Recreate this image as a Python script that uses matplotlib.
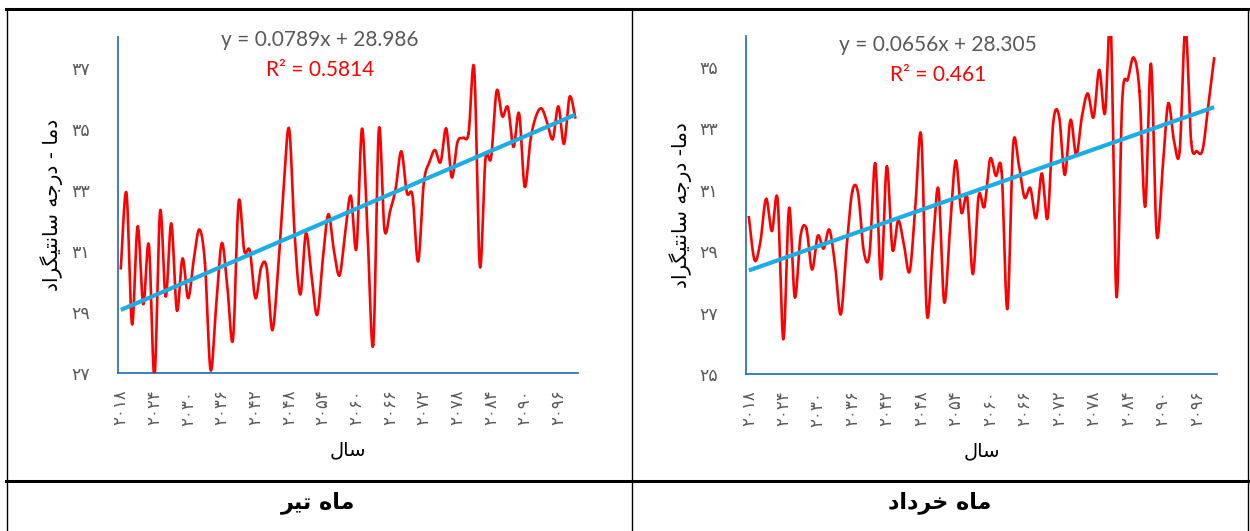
import numpy as np
import matplotlib
matplotlib.use("Agg")
import matplotlib.pyplot as plt
from matplotlib.lines import Line2D

YEARS = np.arange(2018, 2100)

# ماه تیر
TIR_TEMP = [30.43, 32.9, 28.6, 31.8, 29.25, 31.2, 26.9, 32.3, 29.5, 31.9,
            29.05, 30.75, 29.45, 30.7, 31.7, 30.6, 27.1, 29.2, 31.25, 29.8,
            28.1, 32.6, 31.0, 31.0, 29.45, 30.45, 30.45, 28.4, 30.3, 33.0,
            35.0, 31.5, 29.57, 31.57, 30.2, 28.9, 30.7, 32.2, 31.0, 30.2,
            31.6, 32.8, 31.07, 35.0, 31.5, 27.93, 34.97, 31.7, 32.3, 33.04,
            34.26, 32.9, 32.8, 30.65, 33.2, 33.9, 34.3, 33.9, 35.0, 33.4,
            34.55, 34.7, 34.85, 36.95, 30.5, 34.0, 34.05, 36.24, 35.4, 35.7,
            34.4, 35.5, 33.1, 34.6, 35.4, 35.66, 35.2, 34.66, 35.73, 34.5,
            36.04, 35.37]
TIR_FIT = (0.0789, 28.986, 0.5814)

# ماه خرداد
KHORDAD_TEMP = [30.1, 28.7, 29.3, 30.7, 29.65, 30.68, 26.13, 30.4, 27.5, 29.5,
                29.74, 28.4, 29.5, 29.08, 29.7, 28.56, 26.94, 29.1, 30.94, 30.9,
                29.0, 28.9, 31.86, 28.08, 31.75, 29.05, 30.0, 29.2, 28.34, 30.5,
                32.76, 26.94, 29.1, 31.03, 27.34, 29.64, 31.94, 30.26, 30.75, 28.25,
                30.8, 30.45, 32.0, 31.45, 31.6, 27.11, 32.43, 31.8, 30.74, 31.05,
                30.07, 31.53, 30.07, 33.2, 33.4, 31.48, 33.27, 32.13, 33.4, 34.13,
                33.35, 34.9, 33.48, 36.3, 27.52, 33.9, 34.6, 35.3, 34.2, 30.45,
                35.1, 29.53, 31.6, 33.8, 32.6, 32.25, 36.3, 32.56, 32.25, 32.3,
                33.77, 35.27]
KHORDAD_FIT = (0.0656, 28.305, 0.461)

RED = "#FF0000"
TREND = "#1CADE4"
AXIS = "#2E75B6"
GREY = "#595959"

# contextual forms: isolated, final, initial, medial
FORMS = {
    "ا": "\uFE8D\uFE8E\uFE8D\uFE8E", "د": "\uFEA9\uFEAA\uFEA9\uFEAA",
    "ر": "\uFEAD\uFEAE\uFEAD\uFEAE", "م": "\uFEE1\uFEE2\uFEE3\uFEE4",
    "ج": "\uFE9D\uFE9E\uFE9F\uFEA0", "ه": "\uFEE9\uFEEA\uFEEB\uFEEC",
    "س": "\uFEB1\uFEB2\uFEB3\uFEB4", "ن": "\uFEE5\uFEE6\uFEE7\uFEE8",
    "ت": "\uFE95\uFE96\uFE97\uFE98", "ی": "\uFBFC\uFBFD\uFBFE\uFBFF",
    "گ": "\uFB92\uFB93\uFB94\uFB95", "ل": "\uFEDD\uFEDE\uFEDF\uFEE0",
    "خ": "\uFEA5\uFEA6\uFEA7\uFEA8",
}
RIGHT_ONLY = set("ادر")


def fa(text):
    dual = lambda c: c in FORMS and c not in RIGHT_ONLY
    out = []
    for k, c in enumerate(text):
        if c not in FORMS:
            out.append(c)
            continue
        prev = text[k - 1] if k > 0 else ""
        nxt = text[k + 1] if k + 1 < len(text) else ""
        jp = dual(prev)
        jn = dual(c) and nxt in FORMS
        f = FORMS[c]
        out.append(f[3] if jp and jn else f[1] if jp else f[2] if jn else f[0])
    return "".join(reversed(out))


def fa_num(n):
    return str(n).translate(str.maketrans("0123456789", "۰۱۲۳۴۵۶۷۸۹"))


def smooth(x, y, n=24):
    p = np.column_stack([x, y]).astype(float)
    p = np.vstack([p[0], p, p[-1]])
    t = np.linspace(0, 1, n)[:, None]
    segs = []
    for i in range(1, len(p) - 2):
        p0, p1, p2, p3 = p[i - 1], p[i], p[i + 1], p[i + 2]
        segs.append(0.5 * (2 * p1 + (-p0 + p2) * t
                           + (2 * p0 - 5 * p1 + 4 * p2 - p3) * t ** 2
                           + (-p0 + 3 * p1 - 3 * p2 + p3) * t ** 3))
    s = np.vstack(segs)
    return s[:, 0], s[:, 1]


def panel(ax, temps, fit, ylim, ylabel, eq_pos, r2_pos, ylab_x):
    temps = np.array(temps)
    sx, sy = smooth(YEARS, temps)
    ax.plot(sx, sy, color=RED, lw=1.9, zorder=3)
    slope, icpt, r2 = fit
    idx = np.arange(1, len(YEARS) + 1)
    ax.plot(YEARS, slope * idx + icpt, color=TREND, lw=3.0, zorder=4,
            solid_capstyle="butt")
    ax.set_xlim(YEARS[0] - 0.5, YEARS[-1] + 0.5)
    ax.set_ylim(*ylim)
    yt = list(range(ylim[0], ylim[1] + 1, 2))
    ax.set_yticks(yt)
    ax.set_yticklabels([fa_num(v) for v in yt], color=GREY, fontsize=12.5)
    xt = YEARS[::6]
    ax.set_xticks(xt)
    ax.set_xticklabels([fa_num(v) for v in xt], rotation=90, color=GREY,
                       fontsize=12)
    ax.tick_params(axis="y", length=0, pad=20)
    ax.tick_params(axis="x", length=0, pad=12)
    for s in ("top", "right"):
        ax.spines[s].set_visible(False)
    for s in ("left", "bottom"):
        ax.spines[s].set_color(AXIS)
        ax.spines[s].set_linewidth(1.3)
    ax.set_ylabel(fa(ylabel), fontsize=14.5)
    ax.yaxis.set_label_coords(ylab_x, 0.5)
    ax.set_xlabel(fa("سال"), fontsize=14)
    ax.xaxis.set_label_coords(0.5, -0.2)
    ax.text(*eq_pos, f"y = {slope}x + {icpt}", transform=ax.transAxes,
            ha="center", va="center", color=GREY, fontsize=15, family="Lato")
    ax.text(*r2_pos, f"R² = {r2}", transform=ax.transAxes,
            ha="center", va="center", color=RED, fontsize=15, family="Lato")


fig = plt.figure(figsize=(12.5, 5.31), dpi=100)
ax1 = fig.add_axes([118 / 1250, 1 - 373 / 531, 460 / 1250, 336 / 531])
ax2 = fig.add_axes([746 / 1250, 1 - 374 / 531, 471 / 1250, 338 / 531])
panel(ax1, TIR_TEMP, TIR_FIT, (27, 38), "دما - درجه سانتیگراد",
      (0.439, 0.991), (0.439, 0.902), -0.12)
panel(ax2, KHORDAD_TEMP, KHORDAD_FIT, (25, 36), "دما- درجه سانتیگراد",
      (0.407, 0.973), (0.408, 0.885), -0.115)

# table frame
H = lambda px: 1 - px / 531
W = lambda px: px / 1250
fig.add_artist(Line2D([W(6), W(1248)], [H(9), H(9)], color="black", lw=2.2))
fig.add_artist(Line2D([W(6), W(1248)], [H(481), H(481)], color="black", lw=2.2))
for xp in (7, 632, 1248):
    fig.add_artist(Line2D([W(xp), W(xp)], [H(9), H(531)], color="black", lw=1.0))

fig.text(W(318), H(503), fa("ماه تیر"), ha="center", va="center",
         fontsize=16, fontweight="bold")
fig.text(W(940), H(503), fa("ماه خرداد"), ha="center", va="center",
         fontsize=16, fontweight="bold")

fig.savefig("out.png", dpi=100)
